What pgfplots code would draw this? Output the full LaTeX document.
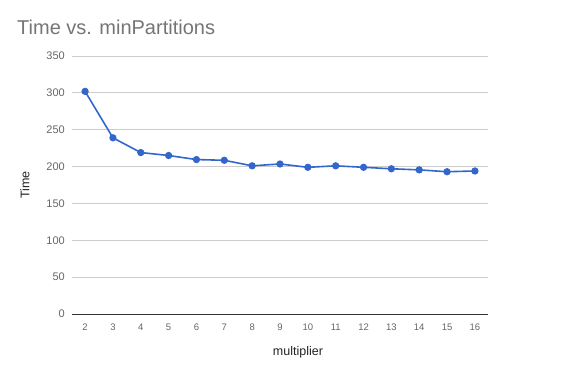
\documentclass[border=0pt]{standalone}
\usepackage{fontspec}
\setmainfont{Liberation Sans}
\usepackage{pgfplots}
\pgfplotsset{compat=1.18}
\definecolor{titlegray}{HTML}{757575}
\definecolor{tickgray}{HTML}{666666}
\definecolor{gridgray}{HTML}{CCCCCC}
\definecolor{lineblue}{HTML}{3366CC}
\definecolor{labeldark}{HTML}{222222}
\begin{document}
\begin{tikzpicture}
\path[use as bounding box] (0pt,0pt) rectangle (570pt,371pt);
\begin{axis}[
  at={(72pt,57pt)}, anchor=south west,
  scale only axis, width=416pt, height=258pt,
  xmin=1.53, xmax=16.47, ymin=0, ymax=350,
  xtick={2,3,...,16}, ytick={0,50,...,350},
  axis line style={draw=none},
  major tick length=0pt,
  ymajorgrids, grid style={gridgray, line width=0.8pt},
  /pgf/number format/assume math mode=true,
  xticklabel style={font=\fontsize{9.5}{11}\selectfont, text=tickgray, anchor=center, yshift=-13pt, inner sep=0pt},
  yticklabel style={font=\fontsize{11}{13}\selectfont, text=tickgray, anchor=east, xshift=-7pt, inner sep=0pt},
  clip=false,
]
\draw[black!80, line width=0.9pt] (axis cs:1.53,0) -- (axis cs:16.47,0);
\addplot[lineblue, line width=1.6pt, mark=*, mark size=2.8pt, mark options={fill=lineblue, draw=lineblue}] coordinates {
  (2,302) (3,239) (4,219) (5,215) (6,209.5) (7,208.5) (8,201) (9,203.5)
  (10,199) (11,201) (12,199) (13,197) (14,195.5) (15,193) (16,194)
};
\end{axis}
\node[anchor=base west, inner sep=0pt, text=titlegray, font=\fontsize{20}{24}\selectfont] at (17pt,336pt) {Time vs. minPartitions};
\node[anchor=center, inner sep=0pt, text=labeldark, font=\fontsize{12.5}{15}\selectfont] at (298pt,19pt) {multiplier};
\node[anchor=center, rotate=90, inner sep=0pt, text=labeldark, font=\fontsize{12.5}{15}\selectfont] at (25pt,186pt) {Time};
\end{tikzpicture}
\end{document}
